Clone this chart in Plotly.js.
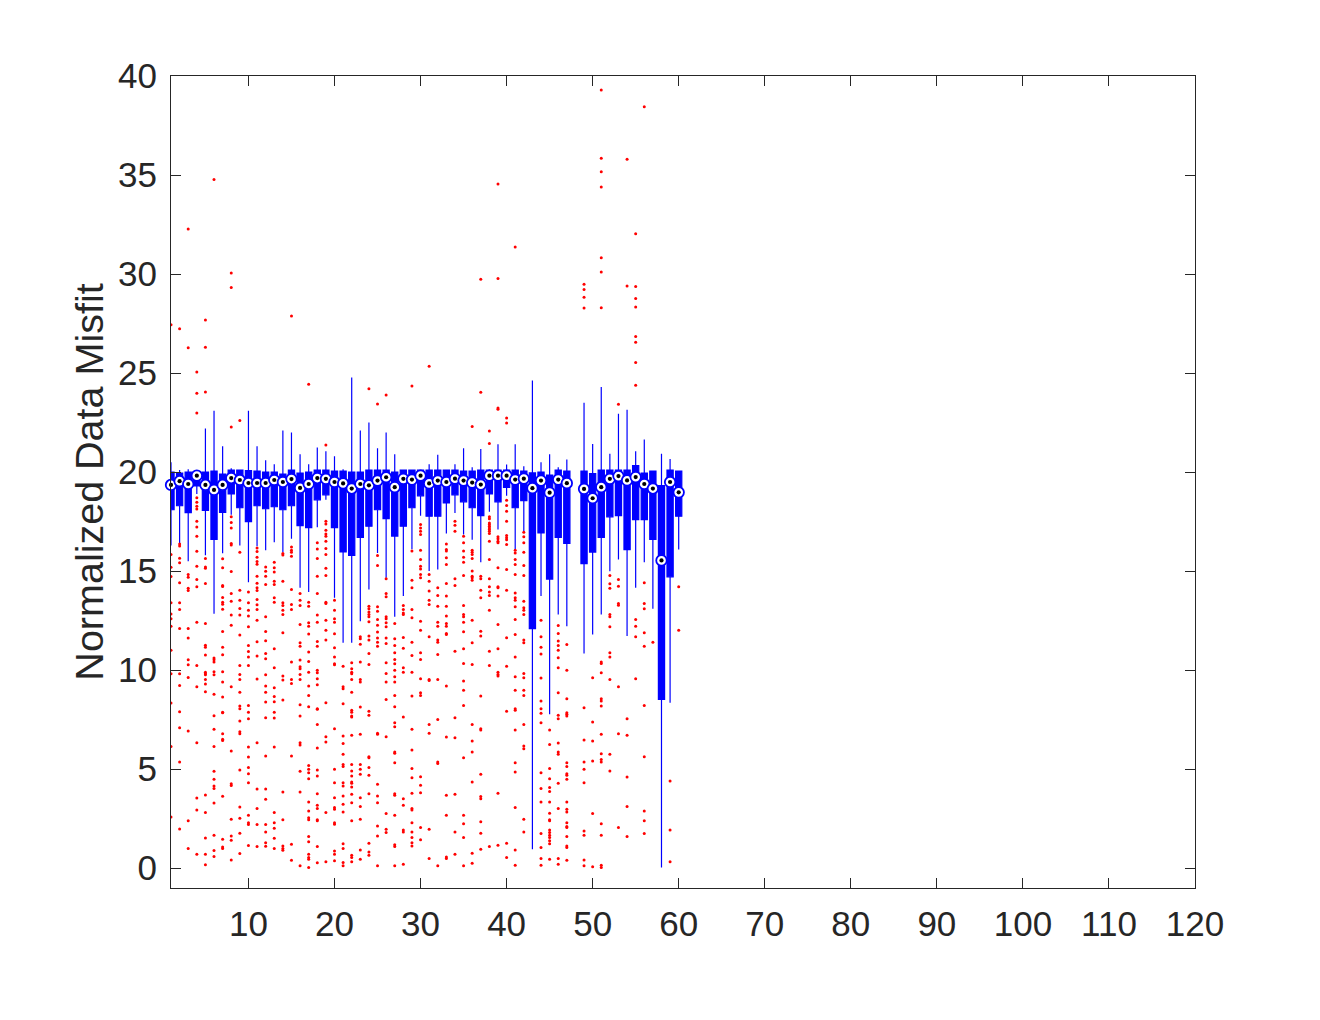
<!DOCTYPE html>
<html>
<head>
<meta charset="utf-8">
<script src="https://cdn.plot.ly/plotly-3.0.1.min.js"></script>
<style>html,body{margin:0;padding:0;background:#fff;}#chart{width:1320px;height:1020px;}</style>
</head>
<body>
<div id="chart"></div>
<script>
// box positions (group 48 has no data)
const boxX = [1,2,3,4,5,6,7,8,9,10,11,12,13,14,15,16,17,18,19,20,21,22,23,24,25,26,27,28,29,30,
  31,32,33,34,35,36,37,38,39,40,41,42,43,44,45,46,47,49,50,51,52,53,54,55,56,57,58,59,60];
const q1 = [18.1,18.3,17.95,19.3,18.07,16.6,17.96,18.9,18.2,17.5,18.3,18.15,18.25,18.1,18.3,17.3,17.2,18.6,18.85,17.2,
  15.97,15.8,16.7,17.27,18.1,17.65,16.77,17.27,18.2,18.8,17.77,17.77,18.44,18.85,18.5,18.2,17.8,18.9,18.5,19.23,
  18.2,18.56,12.1,16.93,14.6,16.7,16.4,15.38,15.96,16.7,17.74,17.8,16.09,17.6,17.6,16.6,8.52,14.71,17.77];
const med = [19.35,19.54,19.4,19.82,19.35,19.1,19.35,19.7,19.6,19.45,19.45,19.45,19.6,19.5,19.65,19.2,19.4,19.7,19.66,19.5,
  19.43,19.17,19.4,19.33,19.57,19.74,19.24,19.66,19.62,19.82,19.43,19.57,19.5,19.67,19.57,19.47,19.37,19.82,19.82,19.82,
  19.62,19.67,19.19,19.57,18.96,19.62,19.44,19.15,18.68,19.24,19.66,19.8,19.58,19.75,19.4,19.17,15.54,19.5,18.98];
const q3 = [20.0,19.95,20.0,20.0,20.0,20.05,19.9,20.1,20.1,20.08,20.05,20.0,20.0,19.9,20.1,19.95,20.0,20.1,20.1,20.05,
  20.05,20.0,20.0,20.1,20.1,20.1,20.0,20.1,20.1,20.1,20.1,20.1,20.1,20.1,20.05,20.05,20.1,20.1,20.1,20.1,
  20.1,20.05,19.96,20.0,19.85,20.1,20.05,20.05,19.92,20.1,20.1,20.1,20.1,20.33,19.95,20.05,19.32,20.1,20.05];
const upperWhisker = [20.5,20.1,20.15,20.0,22.2,23.1,21.3,20.2,20.1,23.1,21.3,20.6,20.4,22.1,22.0,20.9,20.4,21.24,21.05,20.8,
  20.15,24.78,22.1,22.5,21.2,22.0,20.9,20.1,20.1,20.1,20.4,20.87,20.1,20.4,21.2,20.25,21.17,20.15,21.4,20.38,
  21.4,20.3,24.63,20.5,20.9,20.25,20.63,23.5,21.42,24.3,20.93,22.95,23.15,21.05,21.65,20.05,20.93,20.66,20.05];
const lowerWhisker = [16.3,16.4,15.5,18.9,15.8,12.85,15.9,17.85,16.3,14.44,16.26,16.06,16.46,15.95,16.63,14.16,13.94,17.22,18.6,13.65,
  11.38,11.38,12.47,14.07,15.92,14.66,12.69,13.74,16.1,17.8,15.0,15.08,16.9,17.94,16.85,16.59,15.45,18.0,17.1,18.8,
  16.09,17.0,0.96,13.74,7.77,12.81,12.22,10.84,11.8,12.81,14.99,15.59,11.72,14.16,15.45,13.1,0.03,8.35,16.09];
// outliers for each box, in the same order as boxX
const outliers = [
  [27.44,15.84,15.2,14.73,13.4,12.84,12.59,12.22,11.01,9.82,8.34,6.15,2.59],
  [27.24,16.37,16.27,15.65,15.42,14.41,13.4,13.06,12.1,9.82,9.23,7.9,7.09,5.36,1.98],
  [32.28,26.28,14.83,14.69,14.14,14.02,12.1,11.62,10.52,10.27,9.63,6.93,2.4,0.99],
  [25.05,23.98,22.99,18.7,18.48,18.27,18.14,17.52,17.23,16.76,16.0,15.25,14.58,14.21,12.42,10.24,9.16,6.34,3.55,2.94,0.71],
  [27.68,26.31,24.04,15.64,15.21,15.15,14.37,12.36,11.26,11.16,10.76,9.9,9.82,9.77,9.53,9.3,8.91,3.7,2.81,1.53,0.71,0.18],
  [34.77,10.61,10.52,10.41,9.92,9.77,8.78,7.7,7.01,6.15,4.89,4.49,4.15,4.03,3.29,1.66,0.89,0.59],
  [15.62,15.17,14.27,14.22,13.67,13.43,13.33,13.08,11.95,11.16,10.78,9.92,9.4,8.64,7.88,7.85,6.79,6.51,6.45,3.63,1.46,1.07,0.99],
  [30.05,29.32,22.28,17.74,17.45,17.18,16.39,16.32,14.98,13.87,13.48,12.78,12.27,9.16,5.92,4.27,4.17,2.47,1.63,1.41,0.42],
  [22.6,15.95,14.04,13.53,13.11,12.78,11.77,10.24,9.78,9.53,8.89,8.19,8.05,7.43,6.89,6.79,4.96,3.09,2.52,1.76,0.74],
  [13.94,13.4,13.03,12.73,12.19,11.25,10.94,10.67,10.24,8.22,7.88,7.55,6.12,5.62,5.08,4.77,4.32,2.67,2.3,2.2,1.14],
  [16.17,15.99,15.7,15.48,15.35,14.74,14.39,14.16,14.02,13.57,13.3,13.06,12.52,11.43,10.71,9.55,6.34,4.0,3.01,2.2,1.09],
  [15.21,14.99,14.74,14.32,12.69,11.95,11.48,10.84,10.57,9.77,9.2,8.89,8.39,7.6,5.67,4.0,3.48,2.2,1.83,1.29,1.11],
  [15.45,15.17,14.95,14.49,14.32,13.65,13.43,11.08,10.12,9.11,8.67,8.41,7.88,7.58,6.12,2.81,2.3,2.02,1.51,0.99],
  [15.89,15.82,14.49,13.4,13.26,13.03,12.81,11.89,9.7,9.5,8.49,3.85,2.44,1.12,0.99,0.91],
  [27.88,16.22,16.06,15.95,15.75,14.07,13.31,13.06,10.41,9.53,9.33,5.67,1.21,0.4],
  [13.87,13.53,13.26,12.31,11.38,11.21,10.51,10.17,10.07,9.78,9.53,8.25,7.68,6.34,6.22,4.89,3.85,0.12],
  [24.43,13.43,13.23,12.39,12.22,11.82,10.91,10.44,9.9,9.2,8.72,8.15,5.19,4.99,4.82,4.52,3.34,2.89,2.55,2.44,1.6,1.33,0.71,0.54,0.45,0.03],
  [16.43,16.12,15.64,14.74,13.87,12.78,12.42,11.45,11.21,10.0,9.87,9.57,9.26,8.05,8.02,7.26,6.07,4.96,4.66,3.76,3.18,3.01,2.44,2.39,1.09,0.27],
  [21.37,17.52,17.38,17.06,16.88,16.76,16.51,16.14,15.84,15.15,14.78,13.43,13.37,12.52,12.02,11.52,8.35,6.64,6.37,2.81,0.32],
  [13.53,13.03,12.59,12.42,11.84,11.13,10.67,10.32,10.27,7.04,4.99,4.32,3.56,3.06,2.97,2.3,2.22,0.87,0.71,0.37],
  [10.2,9.16,9.06,8.3,6.67,6.29,5.75,5.24,5.13,4.32,4.15,3.65,3.23,2.84,1.24,0.99,0.29,0.12],
  [10.37,10.07,9.9,9.82,9.53,8.89,7.98,7.88,7.68,7.63,6.71,5.24,4.91,4.66,4.35,4.29,4.1,3.73,3.31,2.39,0.65,0.54,0.32],
  [11.68,11.58,11.31,10.41,9.53,9.4,8.14,6.76,5.24,4.99,4.74,3.56,3.11,2.47,0.92,0.45],
  [24.21,13.23,13.1,12.93,12.81,12.69,12.44,11.72,11.52,10.84,10.29,7.93,7.72,5.63,5.58,5.08,4.69,3.76,1.26,0.82,0.65],
  [23.44,15.79,15.28,13.2,12.98,12.56,12.27,11.92,11.62,11.41,11.21,6.81,6.76,4.24,3.65,3.31,2.13,1.63,0.12],
  [23.89,14.61,13.87,13.7,12.69,12.59,12.39,12.19,11.62,11.35,10.37,9.83,9.4,8.52,6.64,2.76,1.97,1.8],
  [12.36,11.58,11.25,10.88,10.54,10.32,10.0,9.67,9.4,8.72,8.15,7.35,7.14,5.87,5.8,5.33,3.76,3.68,2.67,1.18,1.09,0.12],
  [13.26,13.06,12.89,12.81,11.65,11.11,10.12,9.9,7.63,3.51,3.18,1.93,1.83,0.2],
  [24.35,16.01,14.54,14.16,13.06,12.64,11.41,10.74,9.9,8.69,7.01,5.97,5.03,4.57,3.78,3.01,2.94,2.3,1.83,1.55,1.29,1.12],
  [17.35,17.18,17.01,16.85,16.06,15.59,15.25,15.11,14.83,14.66,12.47,12.02,10.88,10.54,9.57,8.86,8.72,4.62,4.19,3.81,2.05,1.43],
  [25.34,14.83,14.49,13.99,13.53,13.31,11.68,9.53,9.48,7.26,6.81,1.97,0.49],
  [14.16,13.77,13.23,12.42,12.22,11.52,11.41,10.79,9.53,7.51,5.36,5.29,0.12],
  [16.37,16.09,16.01,15.67,15.33,14.37,13.74,13.23,12.73,12.36,12.22,11.85,11.8,9.2,6.62,3.68,2.67,0.57,0.49],
  [17.52,17.32,17.01,14.61,14.27,10.96,7.6,6.59,3.73,1.83,0.71],
  [16.76,16.43,16.01,15.7,15.45,14.78,13.26,12.81,12.69,12.42,11.94,11.08,10.34,9.45,8.99,8.22,5.58,2.67,2.25,1.55,0.12],
  [22.3,16.06,15.95,15.84,15.64,15.0,14.74,14.66,14.54,12.52,11.38,10.29,7.26,6.42,5.87,4.35,0.76,0.25],
  [29.74,24.03,14.74,14.61,14.04,13.65,11.97,11.72,8.69,7.04,6.98,4.74,3.62,3.51,2.34,1.76,0.96],
  [22.08,21.45,17.74,17.64,17.43,17.35,17.27,17.18,17.1,17.01,16.9,16.51,15.59,14.61,14.21,13.94,13.77,13.03,10.96,10.24,1.09],
  [34.55,29.77,23.24,23.17,16.73,16.63,16.51,16.43,15.17,14.21,14.16,13.74,12.31,11.08,9.9,9.78,9.7,3.78,1.16],
  [22.73,22.48,18.58,18.31,18.02,17.52,16.8,16.68,16.59,16.34,15.08,14.04,11.63,10.2,7.93,1.26,0.54],
  [31.37,16.06,15.92,15.59,15.33,14.83,13.9,13.65,13.53,13.2,12.56,11.8,10.67,9.67,8.99,8.05,7.98,6.98,5.33,4.86,3.06,0.92,0.15],
  [16.96,16.73,16.43,15.95,15.28,14.78,13.48,13.15,13.03,12.81,11.52,11.38,9.83,9.62,8.99,8.72,7.26,6.17,6.03,2.47,1.83],
  [],
  [12.52,11.68,11.15,10.81,9.6,8.44,8.05,7.82,7.35,4.82,4.02,3.34,1.75,1.04,0.49,0.15],
  [6.98,6.25,5.03,4.52,4.07,3.87,3.34,2.77,2.44,2.39,1.93,1.8,1.66,1.55,1.38,1.24,0.45],
  [12.26,11.85,11.47,11.25,11.01,10.62,10.12,8.86,7.72,7.55,6.32,5.87,5.75,4.29,3.01,0.49,0.2],
  [11.3,10.0,8.56,7.85,7.77,7.68,5.33,5.13,4.77,4.69,4.49,3.34,2.97,2.84,2.3,2.1,2.05,1.6,1.12,1.04,0.4],
  [29.49,29.22,28.83,28.28,8.1,6.47,5.36,4.99,4.32,1.88,1.66,0.42,0.12],
  [9.62,7.38,6.42,5.41,2.76,0.07],
  [39.29,35.85,35.16,34.4,30.82,30.1,28.3,10.41,10.34,9.87,8.56,8.44,8.19,6.76,5.78,5.49,5.36,2.25,1.66,0.15,0.03],
  [14.78,14.36,14.14,12.81,12.69,12.19,10.88,10.67,9.53,5.75,4.91],
  [23.42,14.58,14.24,13.37,13.28,9.16,6.79,2.05],
  [35.8,29.4,7.55,6.71,4.61,3.11,1.6],
  [32.03,29.37,28.76,28.33,26.85,26.56,25.54,24.38,12.56,12.22,11.68,9.57],
  [38.45,14.41,13.37,13.1,11.89,11.21,8.22,5.63,2.89,2.39,1.75],
  [11.41],
  [],
  [4.4,1.93,0.33],
  [14.21,12.02]
];
const xTickVals = [10,20,30,40,50,60,70,80,90,100,110,120];
const yTickVals = [0,5,10,15,20,25,30,35,40];
const yTitle = 'Normalized Data Misfit';

const outX = [], outY = [];
outliers.forEach((vals, i) => vals.forEach(v => { outX.push(boxX[i]); outY.push(v); }));

const BLUE = '#0000ff';
const INK = '#262626';
const FONT = 'Liberation Sans, Arial, Helvetica, sans-serif';

const traces = [
  {type:'box', x: boxX, q1: q1, median: med, q3: q3, lowerfence: lowerWhisker, upperfence: upperWhisker,
   fillcolor: BLUE, line:{color: BLUE, width: 1.2}, whiskerwidth: 0, width: 0.72,
   boxpoints: false, hoverinfo: 'skip', showlegend: false},
  {type:'scatter', mode:'markers', x: outX, y: outY, marker:{color:'#ff0000', size:3, line:{width:0}},
   hoverinfo:'skip', showlegend:false},
  {type:'scatter', mode:'markers', x: boxX, y: med, cliponaxis:false,
   marker:{symbol:'circle', size:10.5, color:'#ffffff', line:{color: BLUE, width:1.8}}, hoverinfo:'skip', showlegend:false},
  {type:'scatter', mode:'markers', x: boxX, y: med, cliponaxis:false,
   marker:{symbol:'circle', size:4.2, color:'#000000', line:{width:0}}, hoverinfo:'skip', showlegend:false}
];

const layout = {
  width: 1320, height: 1020,
  margin: {l:171, r:125, t:76, b:132, pad:0},
  paper_bgcolor:'#ffffff', plot_bgcolor:'#ffffff',
  showlegend:false,
  font:{family: FONT, color: INK},
  xaxis:{range:[1,120], tickvals: xTickVals, ticktext: xTickVals.map(String),
    ticks:'inside', ticklen:10, tickwidth:1, tickcolor: INK,
    showline:true, linecolor: INK, linewidth:1, mirror:'ticks',
    showgrid:false, zeroline:false, tickfont:{size:35, color: INK, family: FONT},
    ticklabelstandoff: 5, fixedrange:true},
  yaxis:{range:[-1,40], tickvals: yTickVals, ticktext: yTickVals.map(String),
    ticks:'inside', ticklen:10, tickwidth:1, tickcolor: INK,
    showline:true, linecolor: INK, linewidth:1, mirror:'ticks',
    showgrid:false, zeroline:false, tickfont:{size:35, color: INK, family: FONT},
    ticklabelstandoff: 6,
    title:{text: yTitle, font:{size:39.5, color: INK, family: FONT}, standoff: 2},
    fixedrange:true}
};

Plotly.newPlot('chart', traces, layout, {displayModeBar:false, staticPlot:true});
</script>
</body>
</html>
